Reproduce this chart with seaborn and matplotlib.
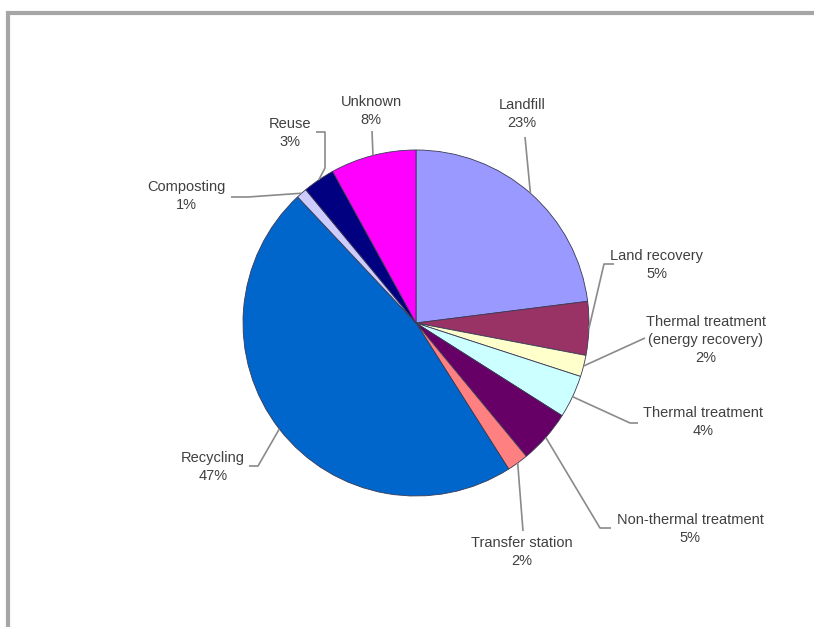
import numpy as np
import matplotlib
matplotlib.use("Agg")
import matplotlib.pyplot as plt
import seaborn as sns

# Waste destinations, clockwise from 12 o'clock
categories = ["Landfill", "Land recovery", "Thermal treatment\n(energy recovery)",
              "Thermal treatment", "Non-thermal treatment", "Transfer station",
              "Recycling", "Composting", "Reuse", "Unknown"]
shares = [23, 5, 2, 4, 5, 2, 47, 1, 3, 8]
slice_colors = ["#9999FF", "#993366", "#FFFFCC", "#CCFFFF", "#660066",
                "#FF8080", "#0066CC", "#CCCCFF", "#000080", "#FF00FF"]

W, H = 814, 627
sns.set_theme(style="white")
plt.rcParams["font.family"] = ["Liberation Sans", "DejaVu Sans"]

fig = plt.figure(figsize=(W / 100, H / 100), dpi=100)
ax = fig.add_axes([0, 0, 1, 1])
ax.set_xlim(0, W)
ax.set_ylim(0, H)
ax.set_aspect("equal")
ax.axis("off")

cx, cy, r = 416, H - 323, 173
palette = sns.color_palette(slice_colors)
wedges, _ = ax.pie(shares, colors=palette, startangle=90, counterclock=False,
                   center=(cx, cy), radius=r, frame=True,
                   wedgeprops=dict(edgecolor="#3a3a55", linewidth=0.6))
ax.set_xlim(0, W)
ax.set_ylim(0, H)
ax.axis("off")

# label layout: text centre and leader-line waypoints (pixel coords from top-left)
layout = [
    ((522, 114), [(525, 137)]),
    ((657, 265), [(604, 264), (614, 264)]),
    ((706, 340), [(645, 338)]),
    ((703, 422), [(630, 423), (638, 423)]),
    ((690, 529), [(600, 528), (611, 528)]),
    ((522, 552), [(523, 531)]),
    ((213, 467), [(258, 466), (249, 466)]),
    ((186, 196), [(248, 197), (231, 197)]),
    ((290, 133), [(325, 168), (325, 132), (316, 132)]),
    ((371, 111), [(372, 131)]),
]

text_color = "#404040"
line_color = "#8a8a8a"
for w, name, val, ((tx, ty), pts) in zip(wedges, categories, shares, layout):
    mid = np.deg2rad((w.theta1 + w.theta2) / 2)
    ex, ey = cx + r * np.cos(mid), cy + r * np.sin(mid)
    xs = [ex] + [p[0] for p in pts]
    ys = [ey] + [H - p[1] for p in pts]
    ax.plot(xs, ys, color=line_color, lw=1.2, solid_capstyle="butt", zorder=3)
    ax.text(tx, H - ty, f"{name}\n{val}%", ha="center", va="center",
            fontsize=10.5, color=text_color, linespacing=1.35, zorder=4)

# grey frame on the top and left edges
ax.plot([8, 8, W], [0, H - 13, H - 13], color="#a6a6a6", lw=3,
        solid_joinstyle="miter", zorder=5)

fig.savefig("out.png", dpi=100)
